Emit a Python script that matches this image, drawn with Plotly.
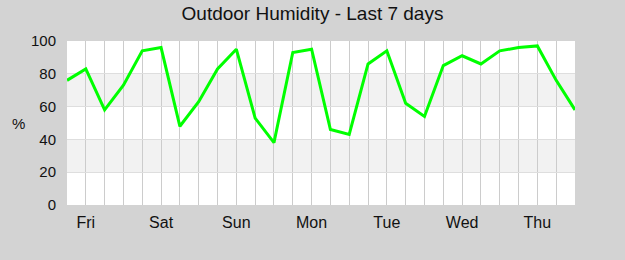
import plotly.graph_objects as go

# Data: humidity readings every 6 hours over the last 7 days
x_index = list(range(28))
humidity = [76, 83, 58, 73, 94, 96, 48, 63, 83, 95, 53, 38, 93, 95, 46, 43,
            86, 94, 62, 54, 85, 91, 86, 94, 96, 97, 76, 58]
day_labels = ["Fri", "Sat", "Sun", "Mon", "Tue", "Wed", "Thu"]
day_positions = [1, 5, 9, 13, 17, 21, 25]
y_ticks = [0, 20, 40, 60, 80, 100]
bands = [(20, 40), (60, 80)]

grid_vals = list(range(1, 27))
grid_text = []
for v in grid_vals:
    if v in day_positions:
        grid_text.append(day_labels[day_positions.index(v)])
    else:
        grid_text.append("")

BG = "#d3d3d3"
FONT = "Liberation Sans, Arial, sans-serif"

fig = go.Figure()
fig.add_trace(go.Scatter(
    x=x_index, y=humidity, mode="lines",
    line=dict(color="#00ff00", width=3),
    hoverinfo="skip", showlegend=False,
))

shapes = []
for lo, hi in bands:
    shapes.append(dict(type="rect", xref="paper", yref="y", x0=0, x1=1, y0=lo, y1=hi,
                       fillcolor="#f2f2f2", line=dict(width=0), layer="below"))

fig.update_layout(
    width=625, height=260,
    margin=dict(l=67, r=50, t=41, b=55),
    paper_bgcolor=BG, plot_bgcolor="#ffffff",
    font=dict(family=FONT, color="#111111", size=15),
    title=dict(text="Outdoor Humidity - Last 7 days", x=0.5, xanchor="center",
               y=1 - 13 / 260, yanchor="middle", yref="container",
               font=dict(size=19, family=FONT, color="#111111")),
    shapes=shapes,
    xaxis=dict(range=[0, 27], tickmode="array", tickvals=grid_vals, ticktext=grid_text,
               showgrid=True, gridcolor="#cccccc", gridwidth=1, zeroline=False,
               showline=False, ticks="", ticklabelstandoff=6,
               tickfont=dict(size=16, family=FONT, color="#111111"), fixedrange=True),
    yaxis=dict(range=[0, 100], tickmode="array", tickvals=y_ticks,
               showgrid=True, gridcolor="#dedede", gridwidth=1, zeroline=False,
               showline=False, ticks="", ticklabelstandoff=10,
               tickfont=dict(size=15, family=FONT, color="#111111"), fixedrange=True),
    annotations=[dict(text="%", xref="paper", yref="paper", x=(18 - 67) / 508, y=0.5,
                      xanchor="center", yanchor="middle", showarrow=False,
                      font=dict(size=15, family=FONT, color="#111111"))],
)

fig.write_html("out.html")
